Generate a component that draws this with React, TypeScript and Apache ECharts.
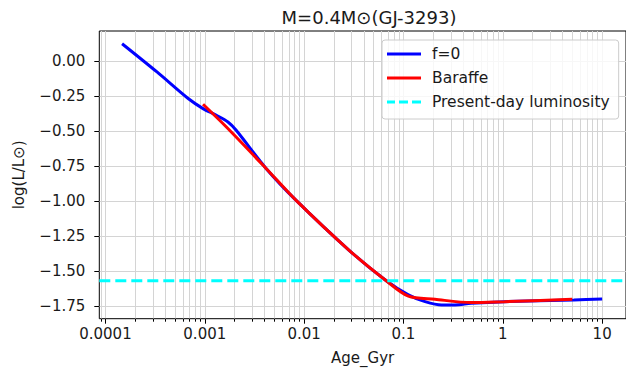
import React, { useEffect, useRef } from "react";
import * as echarts from "echarts";

// f=0 model: age (Gyr) and log(L/Lsun)
const blueAge = [0.000147, 0.00033, 0.00068, 0.00096, 0.00131, 0.00171, 0.00207, 0.00414, 0.00826, 0.0282, 0.0656, 0.112, 0.165, 0.242, 0.33, 0.48, 1.04, 5.2, 10];
const blueLum = [0.126, -0.076, -0.266, -0.338, -0.386, -0.434, -0.493, -0.766, -0.993, -1.35, -1.564, -1.671, -1.719, -1.743, -1.743, -1.731, -1.719, -1.707, -1.7];

// Baraffe model
const redAge = [0.00096, 0.00165, 0.00414, 0.00826, 0.0282, 0.0656, 0.112, 0.207, 0.48, 1.04, 5.0];
const redLum = [-0.307, -0.47, -0.766, -0.993, -1.35, -1.564, -1.68, -1.702, -1.726, -1.719, -1.702];

const presentLum = -1.57;

const xMajorTicks = [0.0001, 0.001, 0.01, 0.1, 1, 10];
const xTickLabels = ["0.0001", "0.001", "0.01", "0.1", "1", "10"];
const yTicks = [0, -0.25, -0.5, -0.75, -1.0, -1.25, -1.5, -1.75];

const X_MIN = -4.062;
const X_MAX = 1.24;
const Y_MIN = -1.841;
const Y_MAX = 0.217;

const FONT = "DejaVu Sans";
const TXT = "#1a1a1a";

const SOLID_ICON = "path://M0,0H34V3H0Z";
const DASH_ICON = "path://M0,0H8V3H0Z M12,0H21V3H12Z M25,0H34V3H25Z";

export default function App() {
  const ref = useRef<HTMLDivElement>(null);
  useEffect(() => {
    const chart = echarts.init(ref.current!, null, { renderer: "svg" });
    const majorLog = xMajorTicks.map((v) => Math.log10(v));
    const allLog: number[] = [];
    for (let d = -5; d <= 1; d++) {
      for (let k = 1; k <= 9; k++) {
        const v = Math.log10(k * Math.pow(10, d));
        if (v >= X_MIN && v <= X_MAX) allLog.push(v);
      }
    }
    const toPts = (ages: number[], lums: number[]) => ages.map((a, i) => [Math.log10(a), lums[i]]);
    const option = {
      animation: false,
      textStyle: { fontFamily: FONT },
      title: {
        text: "M=0.4M⊙(GJ-3293)",
        left: 364,
        top: 3,
        textAlign: "center",
        textStyle: { fontFamily: FONT, fontSize: 18, fontWeight: "normal", color: TXT },
      },
      grid: {
        left: 99.3,
        top: 31,
        right: -3.5,
        bottom: 58.3,
        show: true,
        borderColor: "#000",
        borderWidth: 1,
        backgroundColor: "transparent",
        containLabel: false,
      },
      legend: {
        orient: "vertical",
        left: 382,
        top: 40,
        padding: [6, 9, 9, 5],
        itemGap: 8,
        itemWidth: 34,
        itemHeight: 3,
        backgroundColor: "rgba(255,255,255,0.8)",
        borderColor: "#cccccc",
        borderWidth: 1,
        borderRadius: 3,
        textStyle: { fontFamily: FONT, fontSize: 15.5, color: TXT, lineHeight: 16, padding: [0, 0, 0, 6] },
        data: [
          { name: "f=0", icon: SOLID_ICON },
          { name: "Baraffe", icon: SOLID_ICON },
          { name: "Present-day luminosity", icon: DASH_ICON },
        ],
      },
      xAxis: [
        {
          type: "value",
          min: X_MIN,
          max: X_MAX,
          position: "bottom",
          axisLine: { show: false, onZero: false },
          axisTick: { show: true, customValues: allLog, length: 3, lineStyle: { color: "#000", width: 1 } },
          axisLabel: { show: false },
          splitLine: { show: true, lineStyle: { color: "#d4d4d4", width: 1 } },
        },
        {
          type: "value",
          min: X_MIN,
          max: X_MAX,
          position: "bottom",
          offset: 0,
          axisLine: { show: false, onZero: false },
          axisTick: { show: true, customValues: majorLog, length: 5, lineStyle: { color: "#000", width: 1 } },
          axisLabel: {
            show: true,
            customValues: majorLog,
            margin: 8,
            fontFamily: FONT,
            fontSize: 15,
            color: TXT,
            formatter: (v: number) => xTickLabels[Math.round(v) + 4],
          },
          splitLine: { show: false },
          name: "Age_Gyr",
          nameLocation: "middle",
          nameGap: 32,
          nameTextStyle: { fontFamily: FONT, fontSize: 15, color: TXT },
        },
      ],
      yAxis: {
        type: "value",
        min: Y_MIN,
        max: Y_MAX,
        axisLine: { show: false, onZero: false },
        axisTick: { show: true, customValues: yTicks, length: 5, lineStyle: { color: "#000", width: 1 } },
        axisLabel: {
          show: true,
          customValues: yTicks,
          margin: 14,
          fontFamily: FONT,
          fontSize: 15,
          color: TXT,
          formatter: (v: number) => v.toFixed(2).replace("-", "\u2212"),
        },
        splitLine: { show: true, lineStyle: { color: "#d4d4d4", width: 1 } },
        name: "log(L/L⊙)",
        nameLocation: "middle",
        nameRotate: 90,
        nameGap: 73,
        nameTextStyle: { fontFamily: FONT, fontSize: 15, color: TXT },
      },
      series: [
        {
          name: "f=0",
          type: "line",
          xAxisIndex: 0,
          data: toPts(blueAge, blueLum),
          symbol: "none",
          smooth: 0.3,
          lineStyle: { color: "#0000ff", width: 3 },
          itemStyle: { color: "#0000ff" },
        },
        {
          name: "Baraffe",
          type: "line",
          xAxisIndex: 0,
          data: toPts(redAge, redLum),
          symbol: "none",
          smooth: 0.3,
          lineStyle: { color: "#ff0000", width: 3 },
          itemStyle: { color: "#ff0000" },
        },
        {
          name: "Present-day luminosity",
          type: "line",
          xAxisIndex: 0,
          data: [[X_MIN, presentLum], [X_MAX, presentLum]],
          symbol: "none",
          lineStyle: { color: "#00ffff", width: 3, type: [11, 5] },
          itemStyle: { color: "#00ffff" },
        },
      ],
    };
    chart.setOption(option as any);
    return () => chart.dispose();
  }, []);
  return <div ref={ref} style={{ position: "absolute", left: 0, top: 0, width: 626, height: 377 }} />;
}
